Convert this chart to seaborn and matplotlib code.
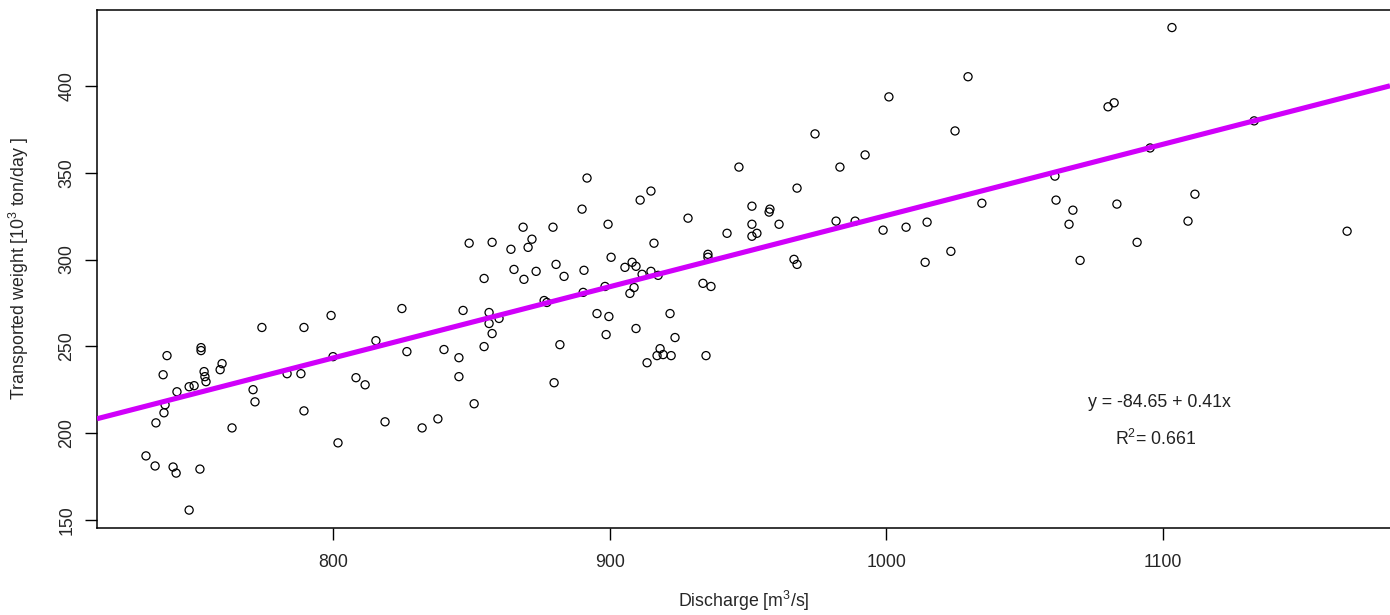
import matplotlib
matplotlib.use("Agg")
import matplotlib.pyplot as plt
import seaborn as sns
import pandas as pd

# ---- data ----
discharge = [
    774.3, 789.5, 752.3, 752.3, 740.0, 759.9, 759.2, 738.6, 753.4, 753.7,
    754.1, 749.8, 748.0, 743.6, 783.4, 788.4, 771.1, 771.8, 739.3, 738.9,
    736.0, 789.5, 763.5, 732.4, 735.7, 742.2, 743.3, 751.9, 748.0, 849.2,
    857.5, 864.3, 870.5, 865.4, 869.0, 854.6, 799.3, 824.9, 847.0, 856.4,
    856.4, 860.0, 857.5, 815.5, 800.0, 826.7, 840.1, 845.5, 854.6, 808.3,
    811.6, 845.5, 818.8, 851.0, 837.9, 832.2, 801.8, 891.8, 914.9, 911.0,
    890.0, 899.4, 868.7, 879.5, 871.9, 916.0, 900.5, 880.6, 905.5, 908.1,
    909.5, 873.4, 883.5, 890.7, 911.7, 914.9, 917.5, 876.3, 877.3, 890.4,
    898.3, 908.8, 907.3, 895.4, 899.7, 898.7, 909.5, 921.8, 882.0, 879.9,
    918.2, 917.1, 919.3, 922.2, 913.5, 946.7, 983.2, 992.3, 967.7, 928.3,
    951.4, 957.9, 957.6, 951.4, 961.2, 942.4, 953.2, 951.4, 981.8, 988.7,
    935.5, 935.5, 966.6, 967.7, 933.7, 936.6, 923.6, 934.8, 1029.5, 1000.9,
    1024.8, 974.2, 998.8, 1007.1, 1014.7, 1034.5, 1014.0, 1023.3, 1103.2, 1082.3,
    1080.1, 1132.9, 1095.3, 1060.9, 1061.3, 1067.4, 1083.3, 1066.0, 1111.5, 1109.0,
    1090.6, 1070.0, 1166.5,
]
weight = [
    260.9, 260.9, 249.3, 247.6, 244.7, 240.1, 236.6, 233.7, 235.5, 232.6,
    229.7, 227.4, 226.8, 223.9, 234.3, 234.3, 225.1, 218.1, 216.4, 211.8,
    206.0, 212.9, 203.1, 187.0, 181.2, 180.6, 177.1, 179.4, 155.8, 309.4,
    309.9, 305.9, 307.0, 294.3, 288.6, 289.1, 267.8, 271.8, 270.7, 269.5,
    263.2, 266.1, 257.4, 253.3, 244.1, 247.0, 248.2, 243.5, 249.9, 232.0,
    227.9, 232.6, 206.6, 217.0, 208.3, 203.1, 194.5, 346.9, 339.4, 334.2,
    329.0, 320.3, 318.6, 318.6, 311.7, 309.4, 301.3, 297.2, 295.5, 298.4,
    296.1, 293.2, 290.3, 293.8, 291.5, 293.2, 290.9, 276.4, 275.3, 281.1,
    284.5, 283.9, 280.5, 268.9, 267.2, 256.8, 260.3, 268.9, 251.0, 229.1,
    248.7, 244.7, 245.3, 244.7, 240.6, 353.2, 353.2, 360.2, 341.1, 323.8,
    330.7, 329.0, 327.3, 320.3, 320.3, 315.1, 315.1, 313.4, 322.1, 322.1,
    303.0, 301.3, 300.1, 297.2, 286.3, 284.5, 255.1, 244.7, 405.2, 393.6,
    374.0, 372.3, 316.9, 318.6, 321.5, 332.4, 298.4, 304.7, 433.5, 390.2,
    387.9, 379.8, 364.2, 348.0, 334.2, 328.4, 331.9, 320.3, 337.6, 322.1,
    309.9, 299.5, 316.3,
]
intercept = -84.65
slope = 0.41
r_squared = 0.661
x_ticks = [800, 900, 1000, 1100]
y_ticks = [150, 200, 250, 300, 350, 400]

df = pd.DataFrame({"Discharge": discharge, "Weight": weight})

sns.set_style("ticks")
plt.rcParams["font.family"] = ["Liberation Sans", "DejaVu Sans"]
plt.rcParams["mathtext.fontset"] = "custom"
plt.rcParams["mathtext.rm"] = "Liberation Sans"
FS = 12.8

W, H = 1390, 615
fig = plt.figure(figsize=(W / 100, H / 100), dpi=100)
ax = fig.add_axes([97 / W, 1 - 528 / H, 1 - 97 / W, (528 - 10) / H])

sns.scatterplot(data=df, x="Discharge", y="Weight", ax=ax, marker="o", s=34,
                facecolor="none", edgecolor="black", linewidth=0.9, zorder=2)
ax.axline((0, intercept), slope=slope, color="#D000FA", linewidth=3.7,
          zorder=3, solid_capstyle="butt")

ax.set_xlim(714.7, 1182.0)
ax.set_ylim(145.5, 443.6)
ax.set_xticks(x_ticks)
ax.set_yticks(y_ticks)
ax.set_xticklabels([str(v) for v in x_ticks], fontsize=FS)
ax.set_yticklabels([str(v) for v in y_ticks], fontsize=FS, rotation=90, va="center")
ax.tick_params(axis="both", length=8.5, width=1.0, color="black", direction="out")
ax.tick_params(axis="x", pad=10)
ax.tick_params(axis="y", pad=7)

for side in ("left", "top", "bottom"):
    ax.spines[side].set_visible(True)
    ax.spines[side].set_linewidth(1.1)
    ax.spines[side].set_color("black")
ax.spines["right"].set_visible(False)

ax.set_xlabel(r"Discharge [m$^{\mathrm{3}}$/s]", fontsize=FS, labelpad=13)
ax.set_ylabel(r"Transported weight [10$^{\mathrm{3}}$ ton/day ]", fontsize=FS, labelpad=20)

ax.text(1098.5, 217.7, f"y = {intercept:.2f} + {slope:.2f}x", fontsize=FS,
        ha="center", va="center", color="#222222")
ax.text(1097.2, 196.6, r"R$^{\mathrm{2}}$= " + f"{r_squared:.3f}", fontsize=FS,
        ha="center", va="center", color="#222222")

fig.savefig("out.png", dpi=100)
